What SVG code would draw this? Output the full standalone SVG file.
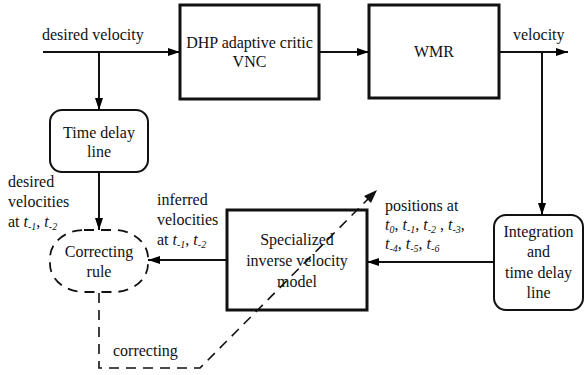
<svg xmlns="http://www.w3.org/2000/svg" width="585" height="375" viewBox="0 0 585 375">
<defs>
<marker id="ah" viewBox="0 0 12 8" refX="12" refY="4" markerWidth="12" markerHeight="8" markerUnits="userSpaceOnUse" orient="auto">
<path d="M0,0 L12,4 L0,8 z" fill="#000"/>
</marker>
</defs>
<style>
text{font-family:"Liberation Serif","Times New Roman",serif;font-size:16px;fill:#111}
.c{text-anchor:middle}
.box{fill:#fff;stroke:#111;stroke-width:3}
.rbox{fill:#fff;stroke:#111;stroke-width:2}
.ln{fill:none;stroke:#111;stroke-width:2}
.dash{fill:none;stroke:#111;stroke-width:1.6;stroke-dasharray:10,7}
.it{font-style:italic}
.sub{font-size:10px;font-style:italic}
</style>
<rect width="585" height="375" fill="#fff"/>
<g id="dhp">
<rect class="box" x="180" y="5" width="139" height="94"/>
<text class="c" x="249.5" y="48">DHP adaptive critic</text>
<text class="c" x="249.5" y="67">VNC</text>
</g>
<g id="wmr">
<rect class="box" x="369" y="5" width="130" height="93"/>
<text class="c" x="434" y="57">WMR</text>
</g>
<g id="timedelay">
<rect class="rbox" x="50" y="110" width="98" height="62" rx="12"/>
<text class="c" x="99" y="138">Time delay</text>
<text class="c" x="99" y="157">line</text>
</g>
<g id="correcting">
<rect x="50" y="230" width="98" height="62" rx="34" ry="28" fill="#fff" stroke="#111" stroke-width="1.8" stroke-dasharray="10,7"/>
<text class="c" x="99" y="257">Correcting</text>
<text class="c" x="99" y="277">rule</text>
</g>
<g id="specialized">
<rect class="box" x="227" y="210" width="140" height="100"/>
<text class="c" x="297" y="245">Specialized</text>
<text class="c" x="297" y="266">inverse velocity</text>
<text class="c" x="297" y="287">model</text>
</g>
<g id="integration">
<rect class="rbox" x="494" y="215" width="89" height="95" rx="12"/>
<text class="c" x="538.5" y="237">Integration</text>
<text class="c" x="538.5" y="257">and</text>
<text class="c" x="538.5" y="278">time delay</text>
<text class="c" x="538.5" y="298">line</text>
</g>
<g id="connectors">
<path class="ln" d="M43,52 H180" marker-end="url(#ah)"/>
<path class="ln" d="M99,52 V110" marker-end="url(#ah)"/>
<path class="ln" d="M319,52 H369" marker-end="url(#ah)"/>
<path class="ln" d="M499,52 H568" marker-end="url(#ah)"/>
<path class="ln" d="M542,52 V215" marker-end="url(#ah)"/>
<path class="ln" d="M99,172 V230" marker-end="url(#ah)"/>
<path class="ln" d="M494,262 H367" marker-end="url(#ah)"/>
<path class="ln" d="M227,260 H148" marker-end="url(#ah)"/>
<path class="dash" d="M99,293 V368 H200 L372,195"/>
<path d="M377,190 L364,196 L371,203 z" fill="#111"/>
</g>
<g id="labels">
<text x="42" y="40">desired velocity</text>
<text x="513" y="40">velocity</text>
<text x="8" y="187">desired</text>
<text x="8" y="207">velocities</text>
<text x="8" y="227">at  <tspan class="it">t</tspan><tspan class="sub" dy="3">-1</tspan><tspan dy="-3">, </tspan><tspan class="it">t</tspan><tspan class="sub" dy="3">-2</tspan></text>
<text x="157" y="205">inferred</text>
<text x="157" y="225">velocities</text>
<text x="157" y="245">at  <tspan class="it">t</tspan><tspan class="sub" dy="3">-1</tspan><tspan dy="-3">, </tspan><tspan class="it">t</tspan><tspan class="sub" dy="3">-2</tspan></text>
<text x="385" y="211">positions at</text>
<text x="385" y="230"><tspan class="it">t</tspan><tspan class="sub" dy="3">0</tspan><tspan dy="-3">, </tspan><tspan class="it">t</tspan><tspan class="sub" dy="3">-1</tspan><tspan dy="-3">, </tspan><tspan class="it">t</tspan><tspan class="sub" dy="3">-2</tspan><tspan dy="-3"> , </tspan><tspan class="it">t</tspan><tspan class="sub" dy="3">-3</tspan><tspan dy="-3">,</tspan></text>
<text x="385" y="249"><tspan class="it">t</tspan><tspan class="sub" dy="3">-4</tspan><tspan dy="-3">, </tspan><tspan class="it">t</tspan><tspan class="sub" dy="3">-5</tspan><tspan dy="-3">, </tspan><tspan class="it">t</tspan><tspan class="sub" dy="3">-6</tspan></text>
<text x="113" y="356">correcting</text>
</g>
</svg>
